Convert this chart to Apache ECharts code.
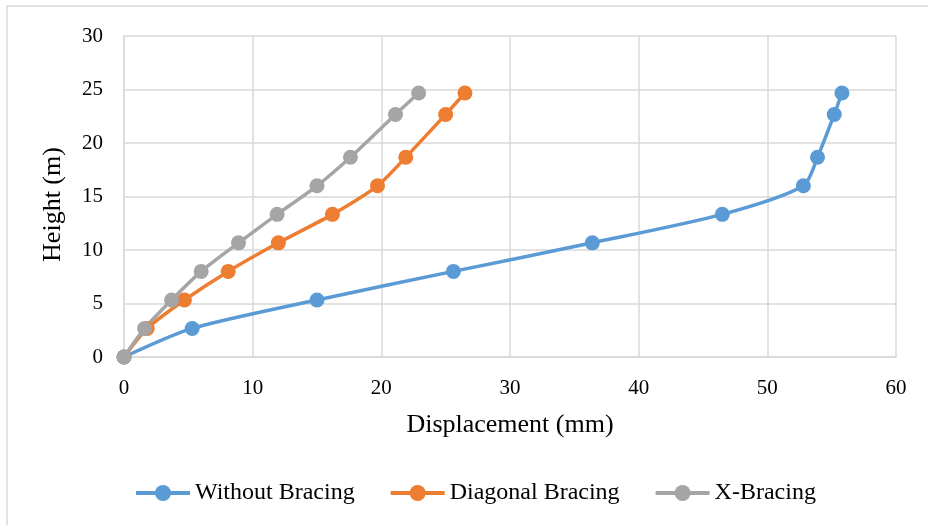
<!DOCTYPE html>
<html>
<head>
<meta charset="utf-8">
<script src="https://cdn.jsdelivr.net/npm/echarts@6/dist/echarts.min.js"></script>
<style>
  html, body { margin: 0; padding: 0; background: #fff; }
  #chart { width: 928px; height: 525px; }
</style>
</head>
<body>
<div id="chart"></div>
<script>
// storey heights (m)
const heights = [0, 2.67, 5.33, 8, 10.67, 13.33, 16, 18.67, 22.67, 24.67];

// displacement (mm) per case
const withoutBracing = [0, 5.3, 15.0, 25.6, 36.4, 46.5, 52.8, 53.9, 55.2, 55.8];
const diagonalBracing = [0, 1.8, 4.7, 8.1, 12.0, 16.2, 19.7, 21.9, 25.0, 26.5];
const xBracing = [0, 1.6, 3.7, 6.0, 8.9, 11.9, 15.0, 17.6, 21.1, 22.9];

const seriesNames = ['Without Bracing', 'Diagonal Bracing', 'X-Bracing'];
const colors = ['#5B9BD5', '#ED7D31', '#A5A5A5'];

const chart = echarts.init(document.getElementById('chart'));

const toPairs = (xs) => xs.map((x, i) => [x, heights[i]]);

const font = 'Liberation Serif, Times New Roman, serif';

const option = {
    color: colors,
    animation: false,
    textStyle: { fontFamily: font },
    graphic: [{
        type: 'rect',
        shape: { x: 7, y: 6, width: 940, height: 540 },
        style: { fill: 'none', stroke: '#d9d9d9', lineWidth: 1.5 },
        silent: true,
    }],
    grid: {
        left: 124,
        right: 32,
        top: 36,
        bottom: 168,
    },
    legend: {
        data: seriesNames,
        top: 476,
        left: 129,
        itemWidth: 54,
        itemHeight: 20,
        itemGap: 34,
        lineStyle: { width: 4 },
        textStyle: { color: '#000', fontSize: 24, fontFamily: font },
    },
    xAxis: {
        type: 'value',
        min: 0,
        max: 60,
        interval: 10,
        name: 'Displacement (mm)',
        nameLocation: 'middle',
        nameGap: 55,
        nameTextStyle: { color: '#000', fontSize: 26, fontFamily: font },
        axisLine: { show: true, lineStyle: { color: '#d9d9d9', width: 1.5 } },
        axisTick: { show: false },
        axisLabel: { color: '#000', fontSize: 21, margin: 21, fontFamily: font },
        splitLine: { show: true, lineStyle: { color: '#d9d9d9', width: 1.5 } },
    },
    yAxis: {
        type: 'value',
        min: 0,
        max: 30,
        interval: 5,
        name: 'Height (m)',
        nameLocation: 'middle',
        nameGap: 58,
        nameTextStyle: { color: '#000', fontSize: 26, fontFamily: font, padding: [0, 16, 0, 0] },
        axisLine: { show: true, lineStyle: { color: '#d9d9d9', width: 1.5 } },
        axisTick: { show: false },
        axisLabel: { color: '#000', fontSize: 21, margin: 21, fontFamily: font },
        splitLine: { show: true, lineStyle: { color: '#d9d9d9', width: 1.5 } },
    },
    series: [
        { name: seriesNames[0], data: toPairs(withoutBracing) },
        { name: seriesNames[1], data: toPairs(diagonalBracing) },
        { name: seriesNames[2], data: toPairs(xBracing) },
    ].map((s, i) => ({
        ...s,
        type: 'line',
        smooth: 0.25,
        symbol: 'circle',
        symbolSize: 15,
        lineStyle: { width: 3.5, color: colors[i] },
        itemStyle: { color: colors[i] },
    })),
};

chart.setOption(option);
</script>
</body>
</html>
